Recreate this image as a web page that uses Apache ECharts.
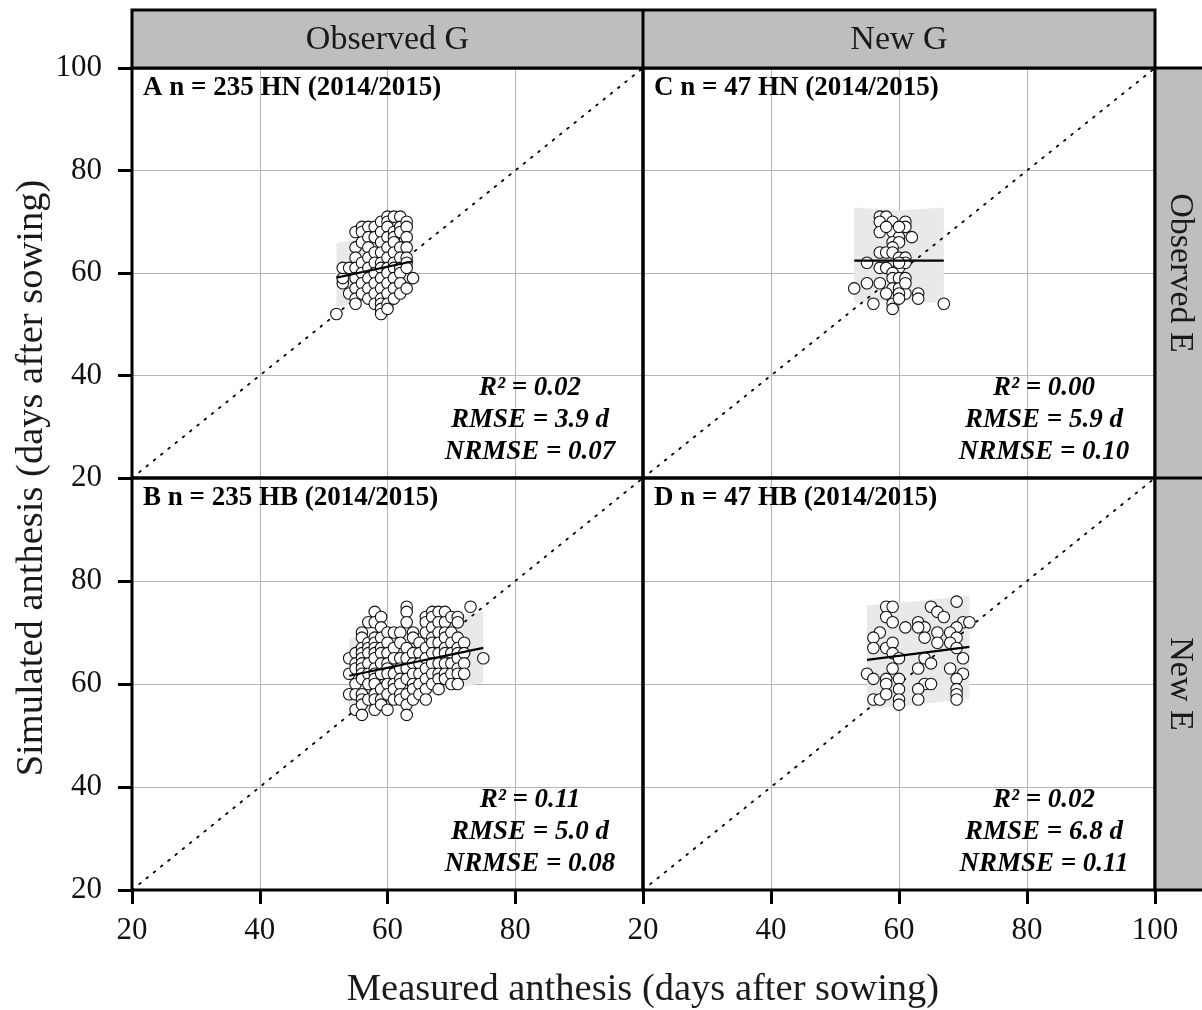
<!DOCTYPE html>
<html><head><meta charset="utf-8">
<script src="https://cdn.jsdelivr.net/npm/echarts@6/dist/echarts.min.js"></script>
<style>html,body{margin:0;padding:0;background:#fff}#c{width:1202px;height:1010px}</style>
</head><body><div id="c"></div>
<script>
// ---------- data ----------
const axisMin = 20, axisMax = 100, axisStep = 20;
const colLabels = ['Observed G', 'New G'];
const rowLabels = ['Observed E', 'New E'];
const xTitle = 'Measured anthesis (days after sowing)';
const yTitle = 'Simulated anthesis (days after sowing)';
const tagA = 'A n = 235 HN (2014/2015)';
const tagB = 'B n = 235 HB (2014/2015)';
const tagC = 'C n = 47 HN (2014/2015)';
const tagD = 'D n = 47 HB (2014/2015)';
const statsA = ['R² = 0.02', 'RMSE = 3.9 d', 'NRMSE = 0.07'];
const statsB = ['R² = 0.11', 'RMSE = 5.0 d', 'NRMSE = 0.08'];
const statsC = ['R² = 0.00', 'RMSE = 5.9 d', 'NRMSE = 0.10'];
const statsD = ['R² = 0.02', 'RMSE = 6.8 d', 'NRMSE = 0.11'];

// Panel A: measured x -> simulated y values (columns)
const colsA = [
  [52, [52]],
  [53, [58, 59, 61]],
  [54, [61, 56]],
  [55, [68, 65, 63, 61, 59, 57, 55, 54]],
  [56, [69, 68, 66, 62, 60, 58, 56]],
  [57, [69, 67, 65, 63, 61, 59, 57, 55]],
  [58, [69, 67, 64, 62, 60, 58, 56, 54]],
  [59, [70, 68, 66, 64, 62, 61, 59, 57, 55, 54, 53, 52]],
  [60, [71, 70, 69, 67, 65, 63, 61, 60, 58, 56, 54, 53]],
  [61, [71, 68, 67, 66, 64, 62, 61, 59, 57, 55]],
  [62, [71, 69, 68, 65, 63, 61, 60, 58, 56]],
  [63, [70, 69, 67, 65, 63, 62, 61, 57]],
  [64, [59]]
];
// Panel B
const colsB = [
  [54, [65, 62, 58]],
  [55, [66, 64, 63, 60, 58, 55]],
  [56, [70, 69, 67, 66, 65, 64, 63, 62, 61, 58, 57, 56, 54]],
  [57, [72, 68, 67, 66, 64, 62, 60, 57]],
  [58, [74, 72, 69, 68, 67, 66, 65, 63, 62, 61, 60, 58, 57, 55]],
  [59, [73, 71, 69, 67, 66, 64, 62, 59, 57, 56]],
  [60, [70, 68, 66, 64, 63, 62, 60, 58, 55]],
  [61, [70, 67, 65, 62, 60, 59, 57]],
  [62, [70, 68, 65, 63, 61, 60, 58, 57]],
  [63, [75, 74, 72, 67, 65, 63, 61, 58, 56, 54]],
  [64, [70, 69, 66, 64, 62, 60, 59, 57]],
  [65, [68, 66, 64, 62, 60, 58]],
  [66, [73, 72, 70, 67, 65, 63, 61, 59, 57]],
  [67, [74, 73, 71, 69, 68, 66, 64, 62, 60]],
  [68, [74, 72, 70, 68, 66, 64, 62, 61, 59]],
  [69, [74, 72, 70, 69, 67, 66, 64, 62, 61]],
  [70, [73, 70, 68, 66, 64, 62, 60]],
  [71, [73, 72, 69, 67, 66, 65, 63, 62, 60]],
  [72, [68, 66, 64, 62]],
  [73, [75]],
  [75, [65]]
];
// Panel C points [measured, simulated]
const ptsC = [[57,71],[58,71],[57,70],[59,70],[61,70],[61,69],[57,68],[59,68],[60,67],[62,67],
  [59,66],[60,66],[57,64],[59,65],[58,64],[59,64],[60,63],[61,63],[55,62],[57,61],
  [58,61],[60,61],[61,62],[59,60],[59,59],[60,59],[61,59],[53,57],[55,58],[57,58],
  [59,57],[60,57],[61,56],[63,56],[56,54],[59,55],[63,55],[59,54],[59,53],[67,54],
  [58,56],[60,56],[60,55],[61,58],[60,62],[58,69],[60,69]];
// Panel D points
const ptsD = [[58,75],[59,75],[65,75],[69,76],[58,73],[59,72],[66,74],[67,73],[63,72],[64,71],
  [63,71],[70,72],[71,72],[61,71],[57,70],[56,69],[69,71],[66,70],[68,70],[56,67],
  [58,67],[59,68],[59,66],[64,69],[66,68],[69,69],[68,68],[69,67],[60,65],[64,65],
  [70,65],[59,63],[63,63],[65,64],[68,63],[70,62],[55,62],[56,61],[58,61],[58,60],
  [60,61],[64,60],[65,60],[69,61],[69,59],[69,58],[69,57],[60,59],[63,59],[56,57],
  [57,57],[58,58],[60,57],[60,56],[63,57]];

// regression lines and bands
const fitA = {x: [52, 64], y: [59.1, 62.3]};
const fitB = {x: [54, 75], y: [61.6, 67.0]};
const fitC = {x: [53, 67], y: [62.4, 62.4]};
const fitD = {x: [55, 71], y: [64.7, 67.2]};
const bandA = {x: [52, 58, 64], lo: [53.3, 54.9, 56.4], hi: [65.8, 67.2, 69.0]};
const bandB = {x: [54, 64.5, 75], lo: [54.8, 57.8, 60.2], hi: [68.8, 71.0, 74.1]};
const bandC = {x: [53, 60, 67], lo: [54.3, 54.7, 54.0], hi: [72.8, 72.2, 72.8]};
const bandD = {x: [55, 63, 71], lo: [55.1, 56.0, 57.1], hi: [75.3, 76.1, 77.2]};
const oneToOne = [[20, 20], [100, 100]];

// ---------- build ----------
function fromCols(cols) {
  const out = [];
  cols.forEach(c => c[1].forEach(y => out.push([c[0], y])));
  return out;
}
const panels = [
  {pts: fromCols(colsA), fit: fitA, band: bandA, tag: tagA, stats: statsA},
  {pts: ptsC, fit: fitC, band: bandC, tag: tagC, stats: statsC},
  {pts: fromCols(colsB), fit: fitB, band: bandB, tag: tagB, stats: statsB},
  {pts: ptsD, fit: fitD, band: bandD, tag: tagD, stats: statsD}
];

const SERIF = '"Liberation Serif", "Times New Roman", serif';
const L = [132, 643], T = [68, 478], W = [511, 512], H = [410, 412];
const grids = [], xAxes = [], yAxes = [], series = [], graphics = [];
const tickStyle = {color: '#000', width: 3};
const labelStyle = {fontFamily: SERIF, fontSize: 31, color: '#111'};
const splitStyle = {show: true, showMinLine: false, showMaxLine: false, lineStyle: {color: '#b5b5b5', width: 1}};

panels.forEach((p, i) => {
  const col = i % 2, row = Math.floor(i / 2);
  grids.push({left: L[col], top: T[row], width: W[col], height: H[row], show: true,
    backgroundColor: 'transparent', borderColor: '#000', borderWidth: 3, z: 10,
    containLabel: false, outerBoundsMode: 'none'});
  const bottomRow = row === 1, leftCol = col === 0;
  xAxes.push({type: 'value', gridIndex: i, min: axisMin, max: axisMax, interval: axisStep,
    axisLine: {show: false},
    axisTick: {show: bottomRow, length: 14, lineStyle: tickStyle},
    axisLabel: {show: bottomRow, margin: 25, showMaxLabel: col === 1, ...labelStyle},
    splitLine: splitStyle});
  yAxes.push({type: 'value', gridIndex: i, min: axisMin, max: axisMax, interval: axisStep,
    axisLine: {show: false},
    axisTick: {show: leftCol, length: 14, lineStyle: tickStyle},
    axisLabel: {show: leftCol, margin: 30, showMaxLabel: row === 0, ...labelStyle},
    splitLine: splitStyle});
  const b = p.band;
  series.push({type: 'custom', xAxisIndex: i, yAxisIndex: i, data: [[60, 60]], z: 1, silent: true,
    renderItem: function (params, api) {
      const pts = [];
      for (let k = 0; k < b.x.length; k++) pts.push(api.coord([b.x[k], b.hi[k]]));
      for (let k = b.x.length - 1; k >= 0; k--) pts.push(api.coord([b.x[k], b.lo[k]]));
      return {type: 'polygon', shape: {points: pts}, style: {fill: '#e9e9e9'}};
    }});
  series.push({type: 'line', xAxisIndex: i, yAxisIndex: i, data: oneToOne, symbol: 'none', z: 2,
    silent: true, lineStyle: {color: '#000', width: 1.8, type: [1.8, 7.5], cap: 'round'}});
  series.push({type: 'scatter', xAxisIndex: i, yAxisIndex: i, data: p.pts, symbol: 'circle',
    symbolSize: 11.5, z: 3, silent: true,
    itemStyle: {color: '#fff', borderColor: '#111', borderWidth: 1.1, opacity: 1}});
  series.push({type: 'line', xAxisIndex: i, yAxisIndex: i,
    data: p.fit.x.map((x, k) => [x, p.fit.y[k]]), symbol: 'none', z: 4, silent: true,
    lineStyle: {color: '#000', width: 2.2}});
  // panel tag
  graphics.push({type: 'text', z: 20, style: {text: p.tag, x: L[col] + 11, y: T[row] + 20,
    font: 'bold 27px ' + SERIF, fill: '#000', textAlign: 'left', textVerticalAlign: 'middle'}});
  // stats
  const sx = col === 0 ? 530 : 1044;
  graphics.push({type: 'text', z: 20, style: {text: p.stats.join('\n'), x: sx,
    y: (row === 0 ? 420 : 832), font: 'italic bold 27px ' + SERIF, lineHeight: 32,
    fill: '#000', textAlign: 'center', textVerticalAlign: 'middle'}});
});

// strips
graphics.push({type: 'rect', z: 15, shape: {x: 132, y: 10, width: 1023, height: 58},
  style: {fill: '#bebebe', stroke: '#000', lineWidth: 3}});
graphics.push({type: 'line', z: 16, shape: {x1: 643, y1: 10, x2: 643, y2: 68},
  style: {stroke: '#000', lineWidth: 3}});
graphics.push({type: 'rect', z: 15, shape: {x: 1155, y: 68, width: 60, height: 822},
  style: {fill: '#bebebe', stroke: '#000', lineWidth: 3}});
graphics.push({type: 'line', z: 16, shape: {x1: 1155, y1: 478, x2: 1210, y2: 478},
  style: {stroke: '#000', lineWidth: 3}});
colLabels.forEach((t, k) => graphics.push({type: 'text', z: 17, style: {text: t,
  x: k === 0 ? 387.5 : 899, y: 40, font: '34px ' + SERIF, fill: '#1a1a1a',
  textAlign: 'center', textVerticalAlign: 'middle'}}));
rowLabels.forEach((t, k) => graphics.push({type: 'text', z: 17, x: 1180, y: k === 0 ? 273 : 684,
  rotation: -Math.PI / 2, style: {text: t, x: 0, y: 0, font: '34px ' + SERIF, fill: '#1a1a1a',
  textAlign: 'center', textVerticalAlign: 'middle'}}));
// axis titles
graphics.push({type: 'text', z: 17, style: {text: xTitle, x: 643, y: 990, font: '38.5px ' + SERIF,
  fill: '#1a1a1a', textAlign: 'center', textVerticalAlign: 'middle'}});
graphics.push({type: 'text', z: 17, x: 32, y: 478, rotation: Math.PI / 2, style: {text: yTitle,
  x: 0, y: 0, font: '38.5px ' + SERIF, fill: '#1a1a1a', textAlign: 'center', textVerticalAlign: 'middle'}});

const chart = echarts.init(document.getElementById('c'), null, {renderer: 'canvas'});
chart.setOption({
  backgroundColor: '#fff', animation: false,
  grid: grids, xAxis: xAxes, yAxis: yAxes, series: series, graphic: graphics
});
</script></body></html>
